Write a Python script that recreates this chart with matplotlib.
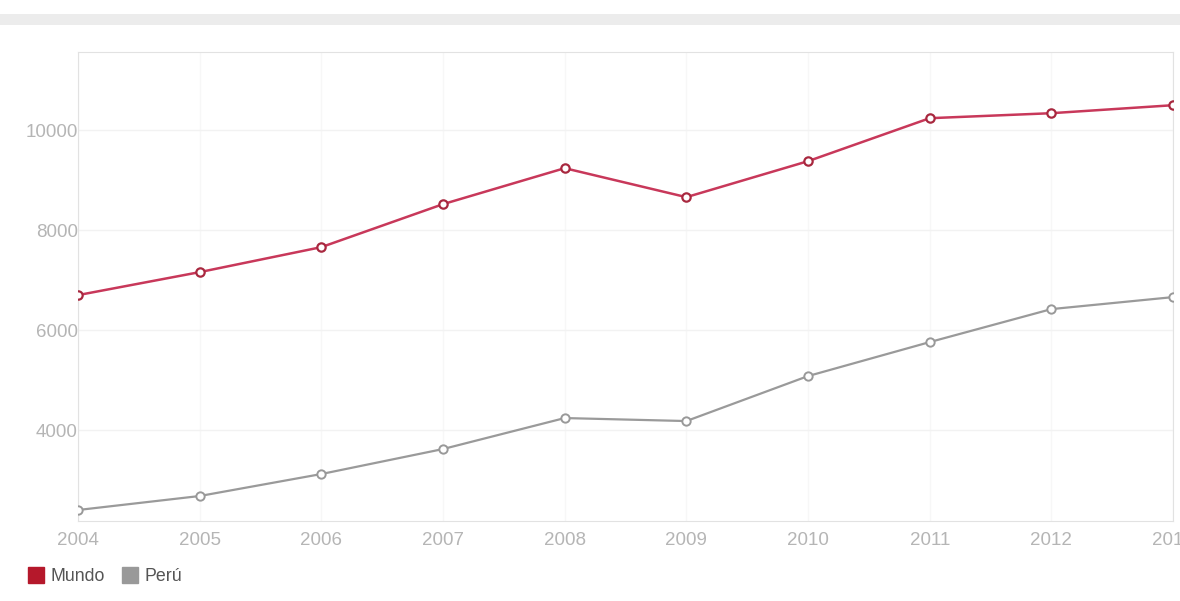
import matplotlib.pyplot as plt
from matplotlib.patches import Rectangle
from matplotlib.lines import Line2D

years = [2004, 2005, 2006, 2007, 2008, 2009, 2010, 2011, 2012, 2013]
mundo = [6700, 7160, 7660, 8520, 9240, 8660, 9380, 10240, 10340, 10500]
peru = [2400, 2680, 3120, 3620, 4240, 4180, 5080, 5760, 6420, 6660]
y_ticks = [4000, 6000, 8000, 10000]

plt.rcParams["font.family"] = ["Liberation Sans", "DejaVu Sans"]

fig = plt.figure(figsize=(11.8, 6.01), dpi=100)
fig.patches.append(
    Rectangle((0.0, 0.958), 1.0, 0.018, transform=fig.transFigure,
              facecolor="#ececec", edgecolor="none", zorder=0)
)

ax = fig.add_axes([0.0661, 0.1331, 0.928, 0.780])

ax.plot(years, mundo, "-o", color="#c8385a", linewidth=1.8,
        markersize=6, markerfacecolor="white", markeredgewidth=1.6,
        markeredgecolor="#a8283f", zorder=3)
ax.plot(years, peru, "-o", color="#9a9a9a", linewidth=1.6,
        markersize=6, markerfacecolor="white", markeredgewidth=1.4,
        markeredgecolor="#999999", zorder=3)

ax.set_xlim(2004, 2013)
ax.set_ylim(2180, 11560)
ax.set_xticks(years)
ax.set_yticks(y_ticks)
ax.tick_params(colors="#b5b5b5", labelsize=13.5, length=0, pad=8)
ax.tick_params(axis="y", pad=0)
ax.grid(True, axis="y", color="#f2f2f2", linewidth=1)
ax.grid(True, axis="x", color="#f7f7f7", linewidth=1)
for s in ax.spines.values():
    s.set_color("#e2e2e2")

handles = [
    Line2D([0], [0], marker="s", linestyle="none", markersize=12,
           markerfacecolor="#b5182b", markeredgecolor="#b5182b", label="Mundo"),
    Line2D([0], [0], marker="s", linestyle="none", markersize=12,
           markerfacecolor="#999999", markeredgecolor="#999999", label="Perú"),
]
fig.legend(handles=handles, loc="lower left", bbox_to_anchor=(0.009, 0.0),
           ncol=2, frameon=False, fontsize=12.8, handlelength=1.0,
           handletextpad=0.35, columnspacing=0.9, labelcolor="#555555")

fig.savefig("out.png", dpi=100)
